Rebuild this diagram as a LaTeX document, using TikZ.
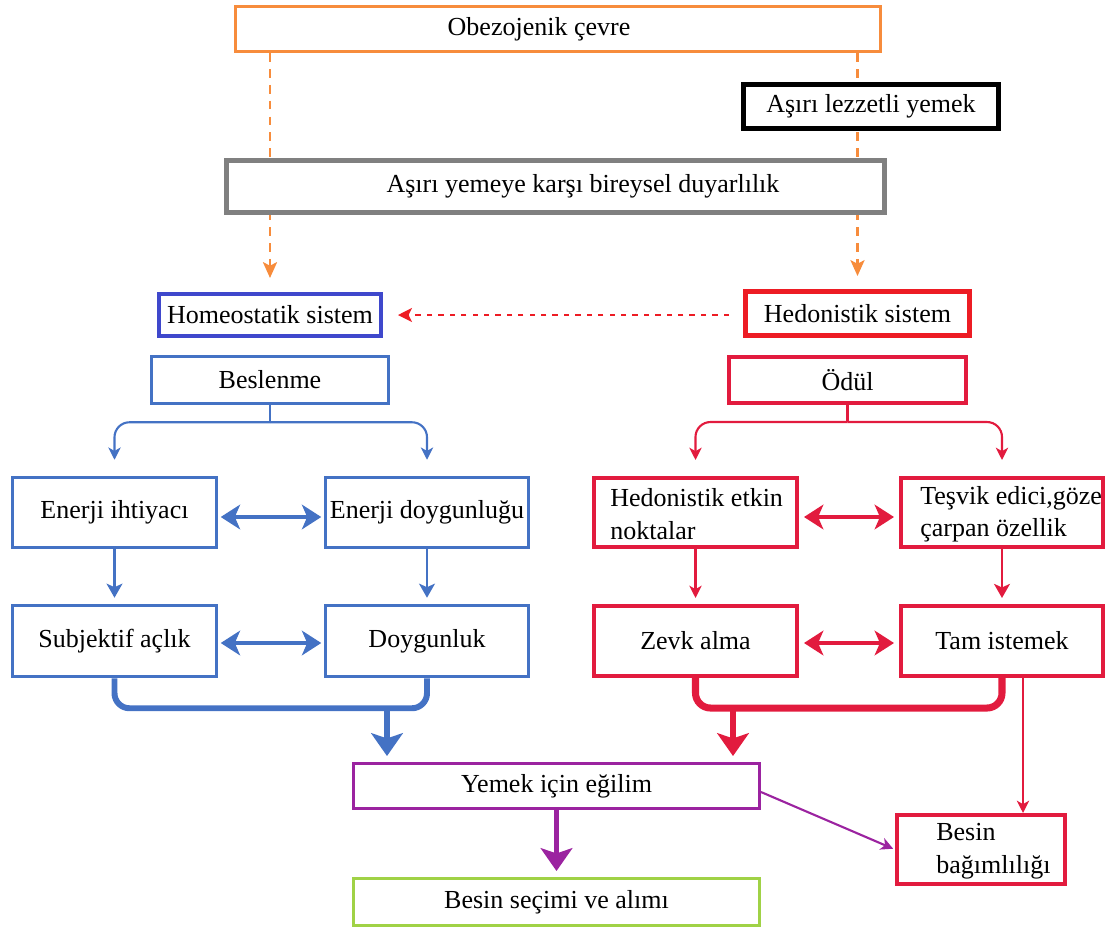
\documentclass[tikz,border=0pt]{standalone}
\usepackage{fontspec}
\setmainfont{Liberation Serif}
\usetikzlibrary{arrows.meta,backgrounds,calc}
\definecolor{corange}{RGB}{247,140,60}
\definecolor{cgray}{RGB}{128,128,128}
\definecolor{chblue}{RGB}{63,72,204}
\definecolor{chred}{RGB}{237,28,36}
\definecolor{cblue}{RGB}{68,114,196}
\definecolor{cred}{RGB}{226,27,62}
\definecolor{cpurple}{RGB}{155,35,160}
\definecolor{cgreen}{RGB}{160,210,70}
\newcommand\myfs{\fontsize{14.8}{18.5}\selectfont}
\begin{document}
\begin{tikzpicture}[x=0.02cm,y=-0.02cm,
  box/.style={draw, fill=white, inner sep=0pt, font=\myfs},
  txt/.style={inner sep=0pt, font=\myfs, align=left},
  bbox/.style={box, draw=cblue, line width=2pt},
  rbox/.style={box, draw=cred, line width=2.3pt},
  odash/.style={corange, line width=1.4pt, dash pattern=on 5pt off 4pt, -{Stealth[length=9pt,width=8pt,inset=2pt]}},
  smalltip/.style={-{Stealth[length=7pt,width=7pt,inset=2pt]}},
  dbltip/.style={{Stealth[length=11pt,width=14pt,inset=3pt]}-{Stealth[length=11pt,width=14pt,inset=3pt]}},
  bigtip/.style={-{Stealth[length=13pt,width=18pt,inset=3pt]}}
]
\useasboundingbox (0,0) rectangle (1110,931);
% top
\node[box, draw=corange, line width=2pt, minimum width=12.9cm, minimum height=0.9cm] (obez) at (558,29) {};
\node[txt] (obezt) at (539,29) {Obezojenik çevre};
\node[box, draw=black, line width=2.85pt, minimum width=5.1cm, minimum height=0.88cm] (lezz) at (871,106.5) {Aşırı lezzetli yemek};
\node[box, draw=cgray, line width=2.85pt, minimum width=13.16cm, minimum height=1.04cm] (duy) at (555.5,186.5) {};
\node[txt] (duyt) at (583,186.5) {Aşırı yemeye karşı bireysel duyarlılık};
\node[box, draw=chblue, line width=2.3pt, minimum width=4.44cm, minimum height=0.84cm] (homeo) at (270,315) {Homeostatik sistem};
\node[box, draw=chred, line width=2.85pt, minimum width=4.48cm, minimum height=0.88cm] (hedo) at (857.5,313.5) {Hedonistik sistem};
% blue side
\node[bbox, minimum width=4.74cm, minimum height=0.94cm] (bes) at (270,380) {Beslenme};
\node[bbox, minimum width=4.08cm, minimum height=1.4cm] (enih) at (114.5,512.5) {Enerji ihtiyacı};
\node[bbox, minimum width=4.06cm, minimum height=1.4cm] (endoy) at (427,512.5) {Enerji doygunluğu};
\node[bbox, minimum width=4.08cm, minimum height=1.42cm] (subj) at (114.5,641) {Subjektif açlık};
\node[bbox, minimum width=4.06cm, minimum height=1.42cm] (doyg) at (427,641) {Doygunluk};
% red side
\node[rbox, minimum width=4.74cm, minimum height=0.92cm] (odul) at (847.5,380) {Ödül};
\node[rbox, minimum width=4.06cm, minimum height=1.38cm] (hetk) at (695.5,512.5) {};
\node[txt, anchor=west] (hetkt) at (610,514) {Hedonistik etkin\\noktalar};
\node[rbox, minimum width=4.04cm, minimum height=1.38cm] (tesv) at (1002,512.5) {};
\node[txt, anchor=west] (tesvt) at (920,514) {Teşvik edici,göze\\çarpan özellik};
\node[rbox, minimum width=4.06cm, minimum height=1.4cm] (zevk) at (695.5,641) {Zevk alma};
\node[rbox, minimum width=4.04cm, minimum height=1.4cm] (tam) at (1002,641) {Tam istemek};
% bottom
\node[box, draw=cpurple, line width=1.7pt, minimum width=8.12cm, minimum height=0.9cm] (yemek) at (556.5,786) {Yemek için eğilim};
\node[box, draw=cgreen, line width=1.7pt, minimum width=8.12cm, minimum height=0.94cm] (secim) at (556.5,902) {Besin seçimi ve alımı};
\node[rbox, minimum width=3.36cm, minimum height=1.38cm] (bagim) at (981,849.5) {};
\node[txt, anchor=west] (bagimt) at (936,851) {Besin\\bağımlılığı};
% dashed orange arrows behind boxes
\begin{scope}[on background layer]
\draw[odash, shorten >=0.28cm] (obez.south -| homeo.north) -- (homeo.north);
\draw[odash, shorten >=0.26cm] (obez.south -| hedo.north) -- (hedo.north);
\end{scope}
% red dotted
\draw[chred, line width=1.1pt, dash pattern=on 3pt off 3.5pt, -{Stealth[length=8pt,width=8pt,inset=2pt]}, shorten >=0.3cm, shorten <=0.28cm]
  (hedo.west |- homeo.east) -- (homeo.east);
% blue branch
\draw[cblue, line width=1.2pt] (bes.south) -- ++(0,17) coordinate (bj);
\draw[cblue, line width=1.2pt, smalltip, rounded corners=0.3cm, shorten >=0.32cm] (bj) -| (enih.north);
\draw[cblue, line width=1.2pt, smalltip, rounded corners=0.3cm, shorten >=0.32cm] (bj) -| (endoy.north);
\draw[cblue, line width=1.6pt, -{Stealth[length=8pt,width=9pt,inset=2pt]}, shorten >=0.12cm] (enih.south) -- (subj.north);
\draw[cblue, line width=1.6pt, -{Stealth[length=8pt,width=9pt,inset=2pt]}, shorten >=0.12cm] (endoy.south) -- (doyg.north);
\draw[cblue, line width=2.4pt, dbltip, shorten >=0.05cm, shorten <=0.05cm] ([yshift=-0.09cm]enih.east) -- ([yshift=-0.09cm]endoy.west);
\draw[cblue, line width=2.4pt, dbltip, shorten >=0.05cm, shorten <=0.05cm] ([yshift=-0.04cm]subj.east) -- ([yshift=-0.04cm]doyg.west);
\draw[cblue, line width=3.4pt, rounded corners=0.3cm] (subj.south) -- ++(0,30) -| (doyg.south);
\coordinate (bb) at (387,708);
\draw[cblue, line width=3pt, bigtip, shorten >=0.12cm] (bb) -- (bb |- yemek.north);
% red branch
\draw[cred, line width=1.2pt] (odul.south) -- ++(0,17) coordinate (rj);
\draw[cred, line width=1.2pt, smalltip, rounded corners=0.3cm, shorten >=0.32cm] (rj) -| (hetk.north);
\draw[cred, line width=1.2pt, smalltip, rounded corners=0.3cm, shorten >=0.32cm] (rj) -| (tesv.north);
\draw[cred, line width=1.2pt, smalltip, shorten >=0.12cm] (hetk.south) -- (zevk.north);
\draw[cred, line width=1.6pt, -{Stealth[length=8pt,width=9pt,inset=2pt]}, shorten >=0.12cm] (tesv.south) -- (tam.north);
\draw[cred, line width=2.8pt, dbltip, shorten >=0.1cm, shorten <=0.1cm] ([yshift=-0.09cm]hetk.east) -- ([yshift=-0.09cm]tesv.west);
\draw[cred, line width=2.8pt, dbltip, shorten >=0.1cm, shorten <=0.1cm] ([yshift=-0.04cm]zevk.east) -- ([yshift=-0.04cm]tam.west);
\draw[cred, line width=4pt, rounded corners=0.3cm] (zevk.south) -- ++(0,30) -| (tam.south);
\coordinate (rb) at (733,708);
\draw[cred, line width=3.4pt, bigtip, shorten >=0.12cm] (rb) -- (rb |- yemek.north);
\coordinate (tb) at (1023,678);
\draw[cred, line width=1.2pt, smalltip] (tb) -- (tb |- bagim.north);
% purple
\draw[cpurple, line width=3.4pt, bigtip, shorten >=0.12cm] (yemek.south) -- (secim.north);
\draw[cpurple, line width=1.2pt, smalltip, shorten >=0.04cm] ([yshift=-0.12cm]yemek.east) -- (bagim.west);
\end{tikzpicture}
\end{document}
